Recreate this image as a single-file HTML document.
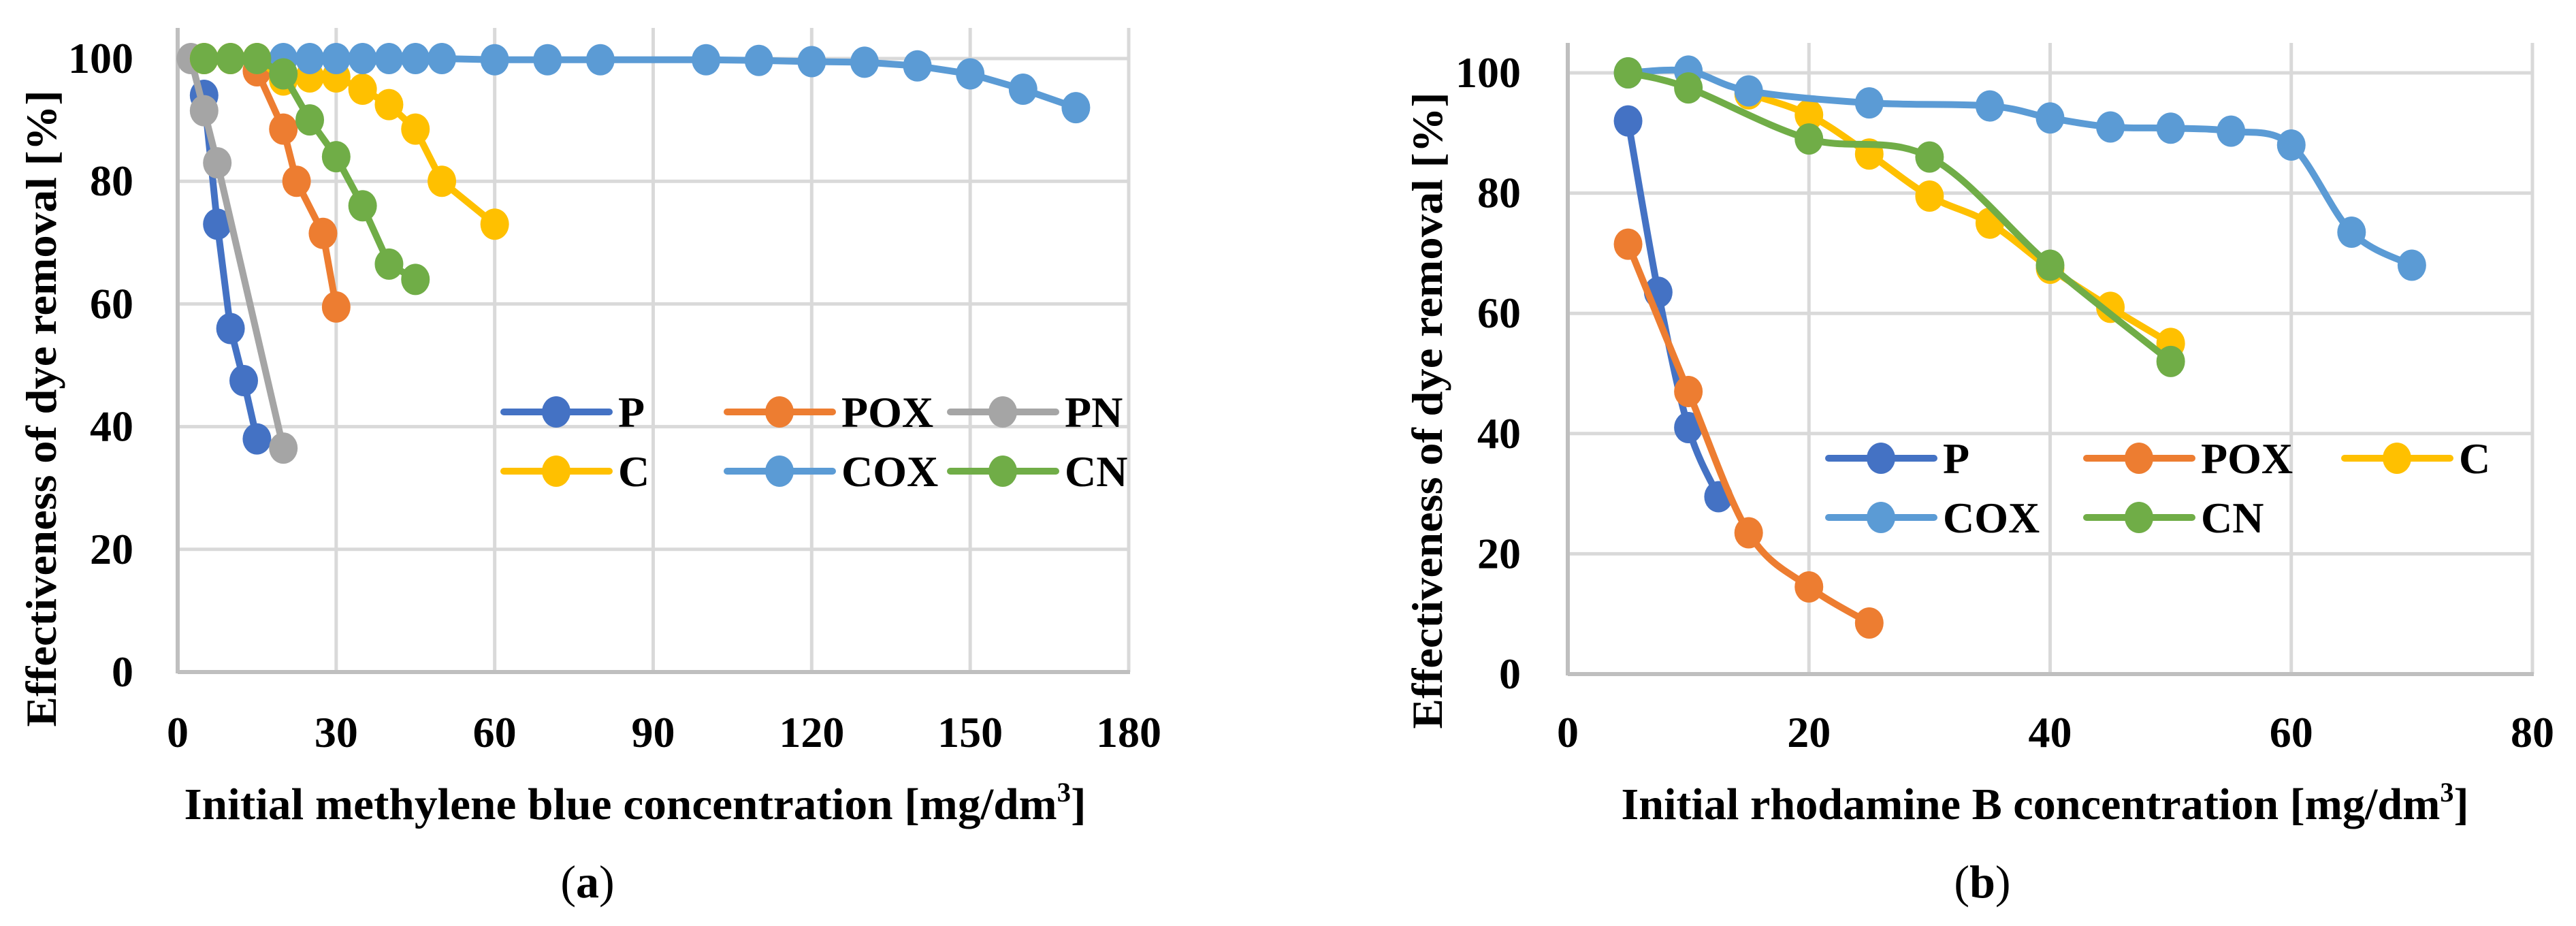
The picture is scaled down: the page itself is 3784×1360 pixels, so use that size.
<!DOCTYPE html>
<html><head><meta charset="utf-8"><style>
html,body{margin:0;padding:0;background:#fff;}
svg{display:block;font-family:"Liberation Serif",serif;font-weight:bold;}
</style></head><body>
<svg id="fig" width="3784" height="1360" viewBox="0 0 3784 1360" xmlns="http://www.w3.org/2000/svg">
<g id="chartA"></g>
<g id="chartB"></g>
<text x="863" y="1318" font-size="68" text-anchor="middle" font-weight="normal">(<tspan font-weight="bold">a</tspan>)</text>
<text x="2912" y="1318" font-size="68" text-anchor="middle" font-weight="normal">(<tspan font-weight="bold">b</tspan>)</text>
</svg>
<script>
const seriesNames = ["P","POX","PN","C","COX","CN"];
const seriesColors = {P:"#4472C4",POX:"#ED7D31",PN:"#A5A5A5",C:"#FFC000",COX:"#5B9BD5",CN:"#70AD47"};
const aTicksX = [0,30,60,90,120,150,180];
const bTicksX = [0,20,40,60,80];
const yTicks = [0,20,40,60,80,100];
const aP_x=[5,7.5,10,12.5,15], aP_y=[94,73,56,47.5,38];
const aPOX_x=[15,20,22.5,27.5,30], aPOX_y=[98,88.5,80,71.5,59.5];
const aPN_x=[2.5,5,7.5,20], aPN_y=[100,91.5,83,36.5];
const aC_x=[5,10,15,20,25,30,35,40,45,50,60], aC_y=[100,100,100,96.5,97,97,95,92.5,88.5,80,73];
const aCOX_x=[20,25,30,35,40,45,50,60,70,80,100,110,120,130,140,150,160,170], aCOX_y=[100,100,100,100,100,100,100,99.8,99.8,99.8,99.8,99.7,99.5,99.4,98.8,97.5,95,92];
const aCN_x=[5,10,15,20,25,30,35,40,45], aCN_y=[100,100,100,97.5,90,84,76,66.5,64];
const bP_x=[5,7.5,10,12.5], bP_y=[92,63.5,41,29.5];
const bPOX_x=[5,10,15,20,25], bPOX_y=[71.5,47,23.5,14.5,8.5];
const bC_x=[15,20,25,30,35,40,45,50], bC_y=[96.5,93,86.5,79.5,75,67.5,61,55];
const bCOX_x=[5,10,15,25,35,40,45,50,55,60,65,70], bCOX_y=[100,100.3,97,95,94.5,92.5,91,90.8,90.3,88,73.5,68];
const bCN_x=[5,10,20,30,40,50], bCN_y=[100,97.5,89,86,68,52];

const NS="http://www.w3.org/2000/svg";
function mk(parent,tag,attrs){const e=document.createElementNS(NS,tag);for(const k in attrs)e.setAttribute(k,attrs[k]);parent.appendChild(e);return e;}

function drawChart(g,cfg){
  const sx=v=>cfg.x0+(v-cfg.xmin)/(cfg.xmax-cfg.xmin)*(cfg.x1-cfg.x0);
  const sy=v=>cfg.y0-(v/100)*(cfg.y0-cfg.y100);
  yTicks.forEach(t=>{ if(t===0)return;
    const l=mk(g,"line",{x1:cfg.x0,x2:cfg.x1,y1:sy(t),y2:sy(t),stroke:"#D9D9D9","stroke-width":5});
    
    
  });
  cfg.ticksX.forEach(t=>{ if(t===cfg.xmin)return;
    const l=mk(g,"line",{x1:sx(t),x2:sx(t),y1:cfg.top,y2:cfg.y0,stroke:"#D9D9D9","stroke-width":5});
    
    
  });
  const ya=mk(g,"line",{x1:cfg.x0,x2:cfg.x0,y1:cfg.top,y2:cfg.y0+2,stroke:"#BFBFBF","stroke-width":6});
  
  
  const xa=mk(g,"line",{x1:cfg.x0,x2:cfg.x1+2,y1:cfg.y0,y2:cfg.y0,stroke:"#BFBFBF","stroke-width":6});
  
  
  yTicks.forEach(t=>{
    const tx=mk(g,"text",{x:cfg.yLabelRight,y:sy(t)+21,"font-size":64,"text-anchor":"end"});
    tx.textContent=t;
    
    
  });
  cfg.ticksX.forEach(t=>{
    const tx=mk(g,"text",{x:sx(t),y:1097,"font-size":64,"text-anchor":"middle"});
    tx.textContent=t;
    
    
  });
  const xt=mk(g,"text",{x:cfg.xTitleX,y:1203,"font-size":66,"text-anchor":"middle",textLength:cfg.xTitleLen,lengthAdjust:"spacingAndGlyphs"});
  xt.innerHTML=cfg.xTitle+" [mg/dm<tspan font-size='40' dy='-26'>3</tspan><tspan dy='26'>]</tspan>";
  
  
  const yt=mk(g,"text",{x:0,y:0,"font-size":64,"text-anchor":"middle",transform:`translate(${cfg.yTitleX},${cfg.yTitleY}) rotate(-90)`,textLength:935,lengthAdjust:"spacingAndGlyphs"});
  yt.textContent="Effectiveness of dye removal [%]";
  
  
  cfg.series.forEach(s=>{
    const pts=s.x.map((v,i)=>[sx(v),sy(s.y[i])]);
    let d;
    if(cfg.smooth&&pts.length>2){
      d="M"+pts[0][0]+","+pts[0][1];
      for(let i=0;i<pts.length-1;i++){
        const p0=pts[i-1]||pts[i],p1=pts[i],p2=pts[i+1],p3=pts[i+2]||p2;
        const c1=[p1[0]+(p2[0]-p0[0])/6,p1[1]+(p2[1]-p0[1])/6];
        const c2=[p2[0]-(p3[0]-p1[0])/6,p2[1]-(p3[1]-p1[1])/6];
        d+=` C${c1[0]},${c1[1]} ${c2[0]},${c2[1]} ${p2[0]},${p2[1]}`;
      }
    } else d="M"+pts.map(p=>p.join(",")).join(" L");
    const sg=mk(g,"g",{});
    
    
    const path=mk(sg,"path",{d:d,fill:"none",stroke:seriesColors[s.name],"stroke-width":10,"stroke-linejoin":"round","stroke-linecap":"round"});
    
    
    pts.forEach(p=>{
      const c=mk(sg,"ellipse",{cx:p[0],cy:p[1],rx:21,ry:23,fill:seriesColors[s.name]});
      
      
    });
  });
  cfg.series.forEach((s,i)=>{
    const col=i%cfg.legCols,row=Math.floor(i/cfg.legCols);
    const lx=cfg.legX+col*cfg.legDX, ly=cfg.legY+row*cfg.legDY;
    const lg=mk(g,"g",{});
    
    
    mk(lg,"line",{x1:lx,x2:lx+155,y1:ly,y2:ly,stroke:seriesColors[s.name],"stroke-width":10,"stroke-linecap":"round"});
    mk(lg,"ellipse",{cx:lx+77,cy:ly,rx:21,ry:23,fill:seriesColors[s.name]});
    const t=mk(lg,"text",{x:lx+168,y:ly+22,"font-size":64});
    t.textContent=s.name;
  });
}

drawChart(document.getElementById("chartA"),{
  x0:261,x1:1658,xmin:0,xmax:180,y0:987,y100:86,top:41,ticksX:aTicksX,yLabelRight:196,
  xTitle:"Initial methylene blue concentration",xTitleX:933,xTitleLen:1325,yTitleX:82,yTitleY:600,smooth:false,
  legX:740,legY:605,legDX:328,legDY:87,legCols:3,
  series:[{name:"P",x:aP_x,y:aP_y},{name:"POX",x:aPOX_x,y:aPOX_y},{name:"PN",x:aPN_x,y:aPN_y},
          {name:"C",x:aC_x,y:aC_y},{name:"COX",x:aCOX_x,y:aCOX_y},{name:"CN",x:aCN_x,y:aCN_y}]
});
drawChart(document.getElementById("chartB"),{
  x0:2303,x1:3720,xmin:0,xmax:80,y0:990,y100:107,top:63,ticksX:bTicksX,yLabelRight:2234,
  xTitle:"Initial rhodamine B concentration",xTitleX:3004,xTitleLen:1245,yTitleX:2118,yTitleY:603,smooth:true,
  legX:2686,legY:673,legDX:379,legDY:87,legCols:3,
  series:[{name:"P",x:bP_x,y:bP_y},{name:"POX",x:bPOX_x,y:bPOX_y},{name:"C",x:bC_x,y:bC_y},
          {name:"COX",x:bCOX_x,y:bCOX_y},{name:"CN",x:bCN_x,y:bCN_y}]
});
</script>
</body></html>
